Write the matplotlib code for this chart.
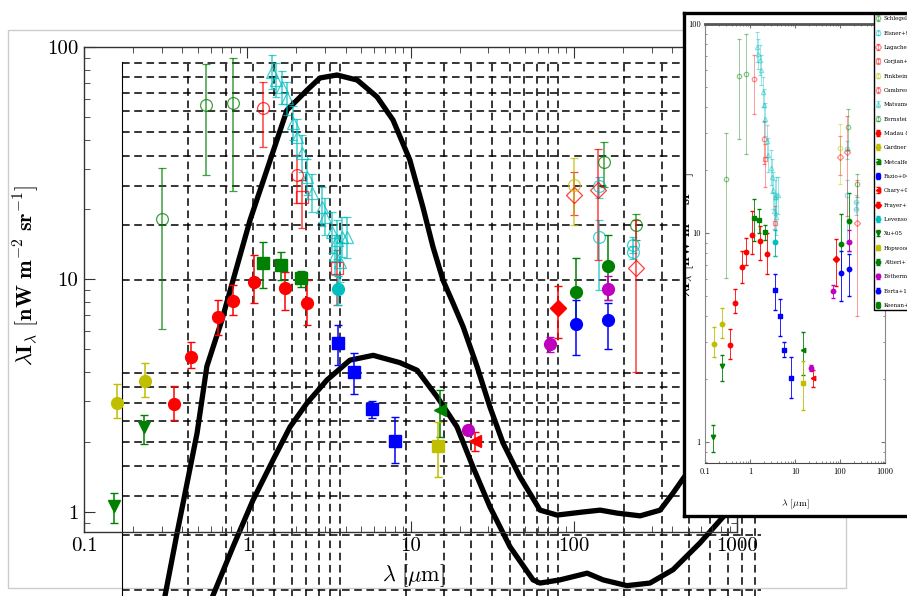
import numpy as np
import matplotlib.pyplot as plt
from matplotlib.patches import Rectangle

plt.rcParams['font.family'] = ['cmr10', 'DejaVu Serif']
plt.rcParams['mathtext.fontset'] = 'cm'
plt.rcParams['axes.unicode_minus'] = False

# ---- data: wavelength [um], lambda*I_lambda [nW m^-2 sr^-1], error bar ends
schlegel_x = [153, 240]
schlegel_y = [32.0, 17.1]
schlegel_lo = [25.0, 14.8]
schlegel_hi = [39.0, 19.1]

elsner_x = [142, 142, 230, 230]
elsner_y = [25.2, 15.2, 14.1, 13.1]
elsner_lo = [22.5, 9.0, 13.0, 12.2]
elsner_hi = [27.5, 18.0, 15.2, 14.0]

lagache_x = [101, 140, 240]
lagache_y = [23.1, 24.3, 11.2]
lagache_lo = [18.9, 12.1, 4.0]
lagache_hi = [29.0, 36.4, 18.0]

gorjian_x = [2.17, 3.56]
gorjian_y = [22.6, 11.2]
gorjian_lo = [16.6, 7.8]
gorjian_hi = [26.8, 13.4]

finkbeiner_x = [101]
finkbeiner_y = [25.5]
finkbeiner_lo = [17.1]
finkbeiner_hi = [33.3]

cambresy_x = [1.25, 2.03]
cambresy_y = [54.7, 28.1]
cambresy_lo = [37.2, 21.3]
cambresy_hi = [70.7, 34.3]

matsumoto_x = [1.42, 1.49, 1.64, 1.76, 1.91, 2.03, 2.17, 2.33, 2.50, 2.89,
               3.01, 3.32, 3.47, 3.56, 3.72, 3.83, 4.10]
matsumoto_y = [78.0, 72.1, 67.3, 60.4, 47.1, 41.0, 35.0, 27.6, 23.6, 20.5,
               18.6, 16.0, 12.7, 14.8, 11.9, 15.2, 15.2]
matsumoto_lo = [66, 61, 57, 51, 40, 34, 29, 23, 19.5, 17, 15.5, 13, 10.5,
                12.2, 9.8, 12.5, 12.4]
matsumoto_hi = [92, 85, 79, 71, 56, 49, 42, 33, 28.5, 25, 22.5, 19.5, 15.5,
                18, 14.5, 18.5, 18.5]

bernstein_x = [0.30, 0.56, 0.82]
bernstein_y = [18.2, 56.4, 57.4]
bernstein_lo = [6.1, 28.1, 24.0]
bernstein_hi = [30.2, 84.5, 89.7]

madau_x = [0.356, 0.453, 0.664, 0.82, 1.10, 1.71, 2.33]
madau_y = [2.92, 4.65, 6.90, 8.09, 9.75, 9.18, 7.93]
madau_lo = [2.49, 4.16, 5.77, 7.03, 7.93, 7.39, 6.37]
madau_hi = [3.48, 5.39, 8.17, 9.46, 12.7, 10.8, 9.95]

gardner_x = [0.159, 0.237]
gardner_y = [2.94, 3.66]
gardner_lo = [2.54, 3.13]
gardner_hi = [3.56, 4.38]

metcalfe_x = [15.1]
metcalfe_y = [2.75]
metcalfe_lo = [2.10]
metcalfe_hi = [3.35]

fazio_x = [3.61, 4.53, 5.84, 8.09]
fazio_y = [5.33, 4.00, 2.77, 2.02]
fazio_lo = [4.28, 3.22, 2.54, 1.63]
fazio_hi = [6.37, 4.83, 3.00, 2.56]

chary_x = [24.7]
chary_y = [2.02]
chary_lo = [1.83]
chary_hi = [2.21]

frayer_x = [79.8]
frayer_y = [7.54]
frayer_lo = [5.60]
frayer_hi = [9.37]

levenson_x = [3.61]
levenson_y = [9.1]
levenson_lo = [7.8]
levenson_hi = [10.3]

xu_x = [0.153, 0.233]
xu_y = [1.06, 2.32]
xu_lo = [0.90, 1.96]
xu_hi = [1.21, 2.61]

hopwood_x = [14.7]
hopwood_y = [1.92]
hopwood_lo = [1.42]
hopwood_hi = [2.44]

altieri_x = [103, 162]
altieri_y = [8.83, 11.4]
altieri_lo = [6.5, 8.2]
altieri_hi = [12.4, 15.5]

bethermin_x = [22.4, 71.3, 162]
bethermin_y = [2.26, 5.29, 9.1]
bethermin_lo = [2.18, 4.88, 8.2]
bethermin_hi = [2.34, 5.66, 10.3]

berta_x = [103, 162]
berta_y = [6.44, 6.70]
berta_lo = [4.73, 5.02]
berta_hi = [8.17, 7.93]

keenan_x = [1.25, 1.62, 2.14]
keenan_y = [11.8, 11.5, 10.1]
keenan_lo = [9.2, 9.96, 9.3]
keenan_hi = [14.5, 13.1, 10.9]

# overlaid model curves (pasted plot with its own log axes)
upper_curve_x = [1.575, 1.79, 2.21, 2.45, 2.87, 3.23, 3.87, 4.62, 5.71, 7.06,
                 8.09, 9.69, 12.0, 14.8, 17.5, 20.9, 24.0, 26.7, 29.7, 33.0,
                 36.7, 42.5, 48.7, 55.9, 66.9, 82.7, 98.9, 130, 156, 187,
                 238, 294, 337, 391, 448]
upper_curve_y = [1.91, 3.05, 6.40, 10.5, 14.8, 19.9, 31.2, 45.2, 70.5, 81.8,
                 89.5, 91.5, 88.1, 77.7, 65.5, 48.7, 34.3, 25.5, 19.9, 16.8,
                 14.1, 10.5, 7.77, 5.95, 4.62, 3.61, 3.48, 3.56, 3.61, 3.53,
                 3.46, 3.61, 4.10, 4.76, 5.43]
lower_curve_x = [2.61, 3.23, 3.99, 4.93, 5.90, 7.06, 8.71, 11.1, 14.2, 18.8,
                 22.6, 27.9, 34.4, 40.7, 48.7, 60.2, 76.8, 82.7, 102, 136,
                 161, 207, 264, 337, 448, 571]
lower_curve_y = [1.91, 2.75, 3.89, 5.24, 6.70, 8.00, 9.49, 11.0, 11.4, 10.8,
                 10.2, 8.37, 6.70, 4.98, 3.70, 2.75, 2.15, 2.10, 2.15, 2.26,
                 2.15, 2.06, 2.10, 2.32, 2.83, 3.43]

series = [
    ('Schlegel+98', schlegel_x, schlegel_y, schlegel_lo, schlegel_hi, 'o', 'g', False),
    ('Elsner+98', elsner_x, elsner_y, elsner_lo, elsner_hi, 'o', 'c', False),
    ('Lagache+00', lagache_x, lagache_y, lagache_lo, lagache_hi, 'D', 'r', False),
    ('Gorjian+00', gorjian_x, gorjian_y, gorjian_lo, gorjian_hi, 's', 'r', False),
    ('Finkbeiner+00', finkbeiner_x, finkbeiner_y, finkbeiner_lo, finkbeiner_hi, 'o', 'y', False),
    ('Cambresy+01', cambresy_x, cambresy_y, cambresy_lo, cambresy_hi, 'o', 'r', False),
    ('Matsumoto+05', matsumoto_x, matsumoto_y, matsumoto_lo, matsumoto_hi, '^', 'c', False),
    ('Bernstein+07', bernstein_x, bernstein_y, bernstein_lo, bernstein_hi, 'o', 'g', False),
    ('Madau & Pozzetti', madau_x, madau_y, madau_lo, madau_hi, 'o', 'r', True),
    ('Gardner+00', gardner_x, gardner_y, gardner_lo, gardner_hi, 'o', 'y', True),
    ('Metcalfe+03', metcalfe_x, metcalfe_y, metcalfe_lo, metcalfe_hi, '<', 'g', True),
    ('Fazio+04', fazio_x, fazio_y, fazio_lo, fazio_hi, 's', 'b', True),
    ('Chary+04', chary_x, chary_y, chary_lo, chary_hi, '<', 'r', True),
    ('Frayer+06', frayer_x, frayer_y, frayer_lo, frayer_hi, 'D', 'r', True),
    ('Levenson & Wright', levenson_x, levenson_y, levenson_lo, levenson_hi, 'o', 'c', True),
    ('Xu+05', xu_x, xu_y, xu_lo, xu_hi, 'v', 'g', True),
    ('Hopwood+10', hopwood_x, hopwood_y, hopwood_lo, hopwood_hi, 's', 'y', True),
    ('Altieri+10', altieri_x, altieri_y, altieri_lo, altieri_hi, 'o', 'g', True),
    ('Béthermin+10', bethermin_x, bethermin_y, bethermin_lo, bethermin_hi, 'o', 'm', True),
    ('Berta+10', berta_x, berta_y, berta_lo, berta_hi, 'o', 'b', True),
    ('Keenan+10', keenan_x, keenan_y, keenan_lo, keenan_hi, 's', 'g', True),
]

W, H = 907, 596


def rect(l, t, r, b):
    # pixel box -> figure fraction
    return [l / W, 1 - b / H, (r - l) / W, (b - t) / H]


def draw_points(ax, ms, lw, cs, faint):
    for lab, x, y, lo, hi, m, c, filled in series:
        y = np.array(y)
        yerr = [y - np.array(lo), np.array(hi) - y]
        ax.errorbar(x, y, yerr=yerr, fmt=m, color=c, mec=c,
                    mfc=c if filled else 'none', ms=ms, mew=1.0 if filled else 0.9,
                    elinewidth=lw, capsize=cs, capthick=lw,
                    alpha=1.0 if filled else faint, label=lab)


fig = plt.figure(figsize=(W / 100, H / 100), dpi=100)
fig.add_artist(Rectangle((8 / W, 1 - 588 / H), 838 / W, 558 / H,
                         transform=fig.transFigure, fill=False,
                         ec='#cccccc', lw=1, zorder=-5))

# pasted dashed-grid plot with the two model curves
ax_ov = fig.add_axes(rect(122, 61.7, 761, 620), zorder=1)
ax_ov.set_facecolor('none')
ax_ov.set_xscale('log')
ax_ov.set_yscale('log')
ax_ov.set_xlim(1, 853)
ax_ov.set_ylim(1.596, 101)
ax_ov.grid(True, which='both', color='black', lw=1.1, linestyle='--', dashes=(5, 3))
ax_ov.tick_params(which='both', length=0, labelleft=False, labelbottom=False)
for s in ['top', 'right', 'bottom']:
    ax_ov.spines[s].set_visible(False)
ax_ov.spines['left'].set_color('black')
ax_ov.plot(upper_curve_x, upper_curve_y, color='black', lw=3.8, clip_on=False)
ax_ov.plot(lower_curve_x, lower_curve_y, color='black', lw=3.8, clip_on=False)

# main data axes
ax = fig.add_axes(rect(84, 47, 737, 532), zorder=2)
ax.set_facecolor('none')
ax.set_xscale('log')
ax.set_yscale('log')
draw_points(ax, ms=8.5, lw=1.1, cs=3, faint=0.75)
ax.set_xlim(0.1, 1000)
ax.set_ylim(0.82, 100)
ax.set_xticks([0.1, 1, 10, 100, 1000], labels=['0.1', '1', '10', '100', '1000'])
ax.set_yticks([1, 10, 100], labels=['1', '10', '100'])
ax.tick_params(which='both', direction='in', top=True, right=True,
               color='#333333', labelsize=15)
ax.tick_params(which='major', length=8, pad=4)
ax.tick_params(which='minor', length=4)
for s in ax.spines.values():
    s.set_color('#333333')
    s.set_linewidth(1.0)
ax.set_xlabel(r'$\lambda\ [\mu\mathrm{m}]$', fontsize=16)
ax.xaxis.set_label_coords(0.504, -0.062)
ax.set_ylabel(r'$\lambda\mathbf{I}_\lambda\ \mathbf{[nW\ m^{-2}\ sr^{-1}]}$', fontsize=16)
ax.yaxis.set_label_coords(-0.066, 0.53)

# pasted small version of the same plot
ax_fr = fig.add_axes(rect(684, 13, 912, 516), zorder=3)
ax_fr.set_facecolor('white')
ax_fr.set_xticks([])
ax_fr.set_yticks([])
for s in ax_fr.spines.values():
    s.set_color('black')
    s.set_linewidth(2.4)
ax_fr.text(0.006, 0.56, r'$\lambda\mathbf{I}_\lambda\ \mathbf{[nW\ m^{-2}\ sr^{-1}]}$',
           rotation=90, ha='center', va='center', fontsize=11,
           transform=ax_fr.transAxes, clip_on=True)

ax_in = fig.add_axes(rect(705, 24, 885, 463), zorder=4)
ax_in.set_xscale('log')
ax_in.set_yscale('log')
draw_points(ax_in, ms=3.2, lw=0.6, cs=1.2, faint=0.45)
ax_in.set_xlim(0.1, 1000)
ax_in.set_ylim(0.794, 100)
ax_in.set_xticks([0.1, 1, 10, 100, 1000], labels=['0.1', '1', '10', '100', '1000'])
ax_in.set_yticks([1, 10, 100], labels=['1', '10', '100'])
ax_in.tick_params(which='both', direction='in', top=True, right=True,
                  color='#777777', labelsize=6, pad=3)
ax_in.tick_params(which='major', length=3)
ax_in.tick_params(which='minor', length=1.5)
for s in ax_in.spines.values():
    s.set_color('#888888')
    s.set_linewidth(0.8)
ax_in.spines['top'].set_color('#555555')
ax_in.spines['top'].set_linewidth(2.0)
ax_in.spines['bottom'].set_color('#444444')
ax_in.set_xlabel(r'$\lambda\ [\mu\mathrm{m}]$', fontsize=7)
ax_in.xaxis.set_label_coords(0.5, -0.08)
ax_in.legend(loc='upper left', bbox_to_anchor=(874 / W, 1 - 14 / H),
             bbox_transform=fig.transFigure, borderaxespad=0,
             labelspacing=1.68, handlelength=0.8, handletextpad=0.6,
             borderpad=0.4, fancybox=False, edgecolor='black', framealpha=1,
             prop={'family': ['DejaVu Serif'], 'size': 4})

fig.savefig('out.png', dpi=100)
